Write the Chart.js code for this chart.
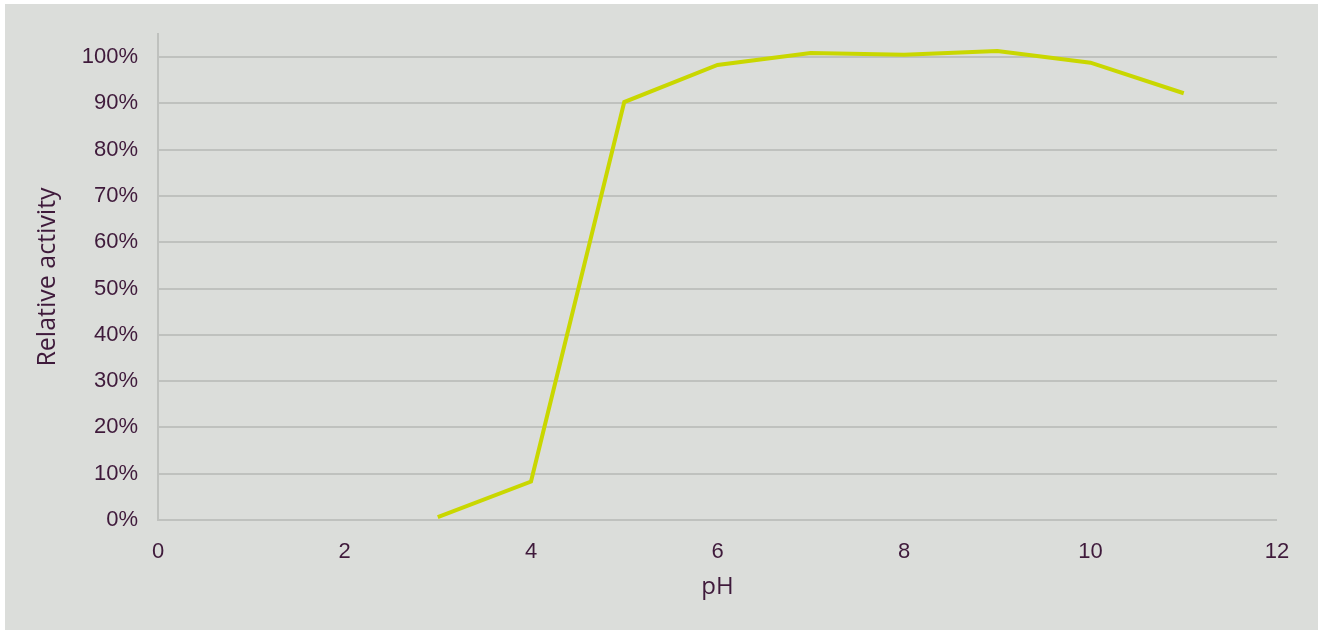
<!DOCTYPE html>
<html>
<head>
<meta charset="utf-8">
<script src="https://cdn.jsdelivr.net/npm/chart.js@4/dist/chart.umd.min.js"></script>
<style>
    html, body { margin: 0; padding: 0; background: #ffffff; }
    .card {
        position: absolute; left: 5px; top: 4px;
        width: 1313px; height: 626px;
        background: #dbddda;
    }
    canvas { display: block; }
</style>
</head>
<body>
<div class="card"><canvas id="chart" width="1313" height="626"></canvas></div>
<script>
// pH values and measured relative activity
const phValues = [3, 4, 5, 6, 7, 8, 9, 10, 11];
const relativeActivity = [0.006, 0.083, 0.903, 0.983, 1.009, 1.005, 1.013, 0.988, 0.922];
const xTicks = [0, 2, 4, 6, 8, 10, 12];
const yTicks = [0, 0.1, 0.2, 0.3, 0.4, 0.5, 0.6, 0.7, 0.8, 0.9, 1.0];

const textColor = '#3f1a3b';
const gridColor = '#bfc1be';

new Chart(document.getElementById('chart'), {
    type: 'line',
    data: {
        datasets: [{
            data: phValues.map((x, i) => ({ x, y: relativeActivity[i] })),
            borderColor: '#c9d700',
            borderWidth: 4,
            pointRadius: 0,
            tension: 0,
            fill: false,
        }]
    },
    options: {
        responsive: false,
        animation: false,
        layout: { padding: { top: 30, right: 41, left: 0, bottom: 0 } },
        plugins: { legend: { display: false }, tooltip: { enabled: false } },
        scales: {
            x: {
                type: 'linear',
                min: 0,
                max: 12,
                afterBuildTicks: (scale) => { scale.ticks = xTicks.map(v => ({ value: v })); },
                afterFit: (scale) => { scale.height = 110; },
                grid: { display: false, drawTicks: false },
                border: { display: false },
                ticks: {
                    color: textColor,
                    font: { family: 'Liberation Sans', size: 22 },
                    padding: 19,
                    maxRotation: 0,
                },
                title: {
                    display: true,
                    text: 'pH',
                    color: textColor,
                    font: { family: 'Open Sans', size: 24 },
                    padding: { top: 0, bottom: 28 },
                }
            },
            y: {
                min: 0,
                max: 1.05,
                afterBuildTicks: (scale) => { scale.ticks = yTicks.map(v => ({ value: v })); },
                afterFit: (scale) => {
                    scale.width = 153;
                    scale.paddingTop = 0;
                    scale.paddingBottom = 0;
                },
                grid: { color: gridColor, lineWidth: 2, drawTicks: false },
                border: { display: true, color: gridColor, width: 2 },
                ticks: {
                    color: textColor,
                    font: { family: 'Liberation Sans', size: 22 },
                    padding: 20,
                    callback: (v) => Math.round(v * 100) + '%',
                },
                title: {
                    display: true,
                    text: 'Relative activity',
                    color: textColor,
                    font: { family: 'Open Sans', size: 25 },
                    padding: { top: 28, bottom: 0 },
                }
            }
        }
    }
});
</script>
</body>
</html>
